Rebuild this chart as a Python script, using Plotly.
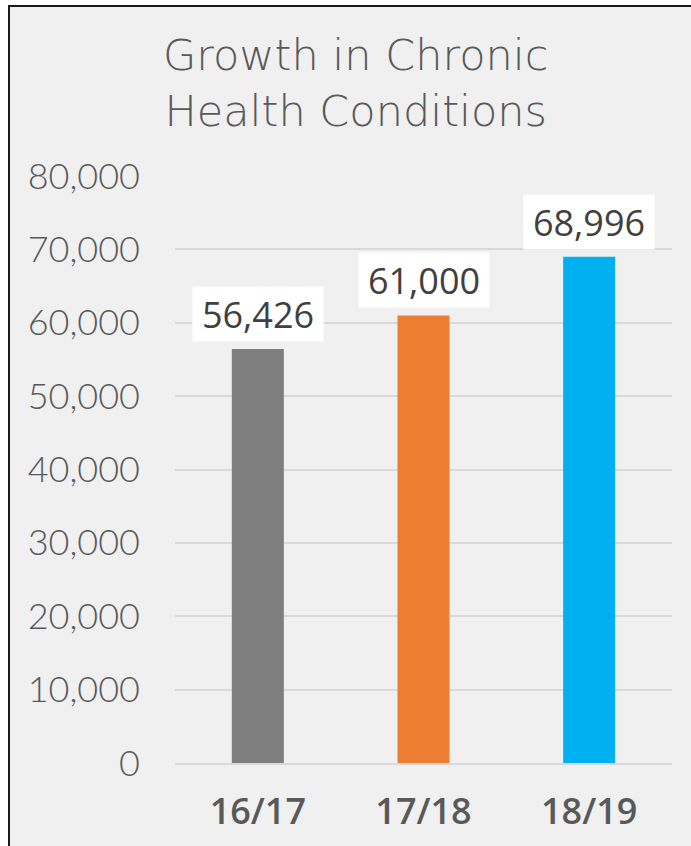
import plotly.graph_objects as go

# Colours
BG = "#f0f0f0"
TEXT_GRAY = "#595959"
GRID = "#d9d9d9"
BAR_COLORS = ["#7f7f7f", "#ed7d31", "#00b0f0"]

# Data
years = ["16/17", "17/18", "18/19"]
conditions = [56426, 61000, 68996]
tick_vals = [0, 10000, 20000, 30000, 40000, 50000, 60000, 70000, 80000]
tick_text = ["0", "10,000", "20,000", "30,000", "40,000", "50,000", "60,000", "70,000", "80,000"]

W, H = 691, 846
L, R, T, B = 175, 19, 176, 83
pw, ph = W - L - R, H - T - B


def px_x(x):
    return (x - L) / pw


def px_y(y):
    return (H - B - y) / ph


fig = go.Figure()
fig.add_trace(go.Bar(
    x=years,
    y=conditions,
    marker_color=BAR_COLORS,
    marker_line_width=0,
    hoverinfo="skip",
))

# value labels in white boxes
annotations = []
for yr, v in zip(years, conditions):
    annotations.append(dict(
        x=yr, y=v, xref="x", yref="y",
        text=f"{v:,}",
        showarrow=False,
        yanchor="bottom",
        yshift=7,
        width=124, height=48,
        bgcolor="white",
        borderpad=3,
        font=dict(family="Open Sans", size=36, color="#404040"),
    ))

# title
annotations.append(dict(
    x=px_x(355), y=px_y(83), xref="paper", yref="paper",
    text="Growth in Chronic<br>Health Conditions",
    showarrow=False,
    xanchor="center", yanchor="middle",
    font=dict(family="DejaVu Sans", size=43, color=TEXT_GRAY, weight=200),
))

# chart frame
shapes = [dict(
    type="rect", xref="paper", yref="paper",
    x0=px_x(9), x1=px_x(693), y0=px_y(850), y1=px_y(6),
    fillcolor=BG, line=dict(color="#1a1a1a", width=2),
    layer="below",
)]

fig.update_layout(
    width=W, height=H,
    margin=dict(l=L, r=R, t=T, b=B),
    paper_bgcolor="white",
    plot_bgcolor="rgba(0,0,0,0)",
    showlegend=False,
    bargap=0.686,
    annotations=annotations,
    shapes=shapes,
    xaxis=dict(
        showgrid=False,
        showline=True, linecolor=GRID, linewidth=2,
        tickfont=dict(family="Open Sans", size=36, color=TEXT_GRAY, weight=600),
        ticklabelstandoff=16,
    ),
    yaxis=dict(
        range=[0, 80000],
        tickvals=tick_vals, ticktext=tick_text,
        showgrid=True, gridcolor=GRID, gridwidth=2,
        zeroline=False, showline=False,
        tickfont=dict(family="Lato", size=36, color=TEXT_GRAY, weight=300),
        ticklabelstandoff=34,
    ),
)

fig.write_html("out.html", config={"displayModeBar": False},
               post_script="document.body.style.margin='0';")
